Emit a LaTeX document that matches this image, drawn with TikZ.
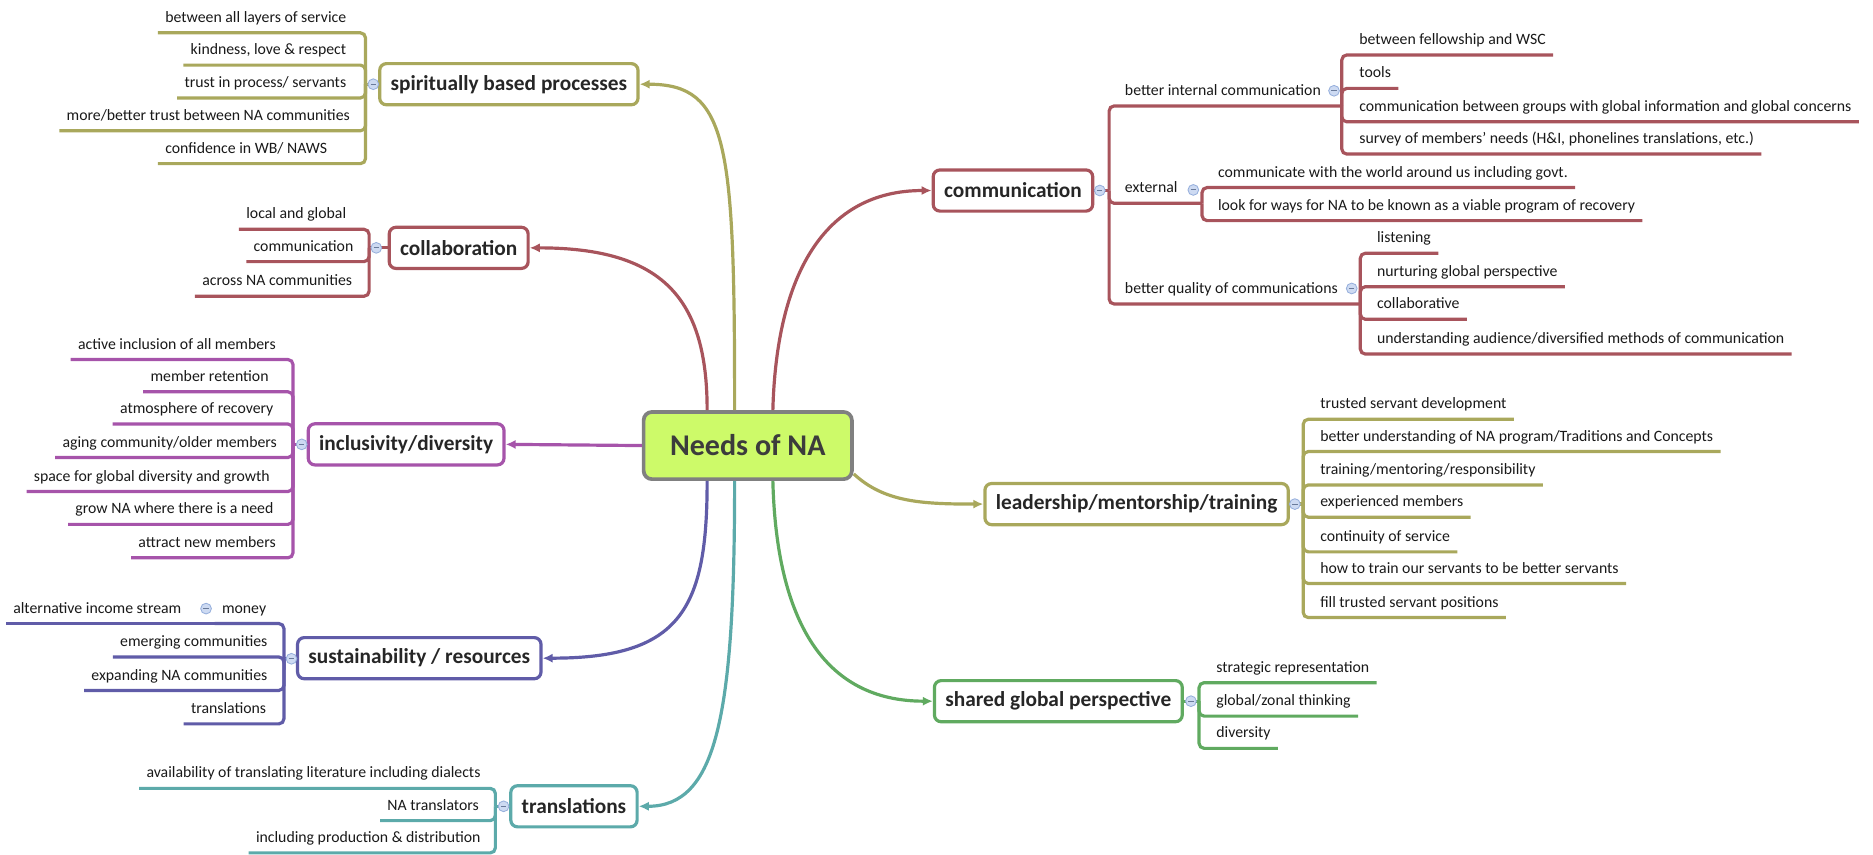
\documentclass[tikz,border=0pt]{standalone}
\usepackage{fontspec}
\setmainfont{Carlito}
\usepackage{tikz}
\usetikzlibrary{arrows.meta, calc}
\tikzset{>={Latex[length=6pt,width=5.5pt]}}
\definecolor{myolive}{RGB}{169,168,92}
\definecolor{myrose}{RGB}{168,84,92}
\definecolor{myplum}{RGB}{166,84,170}
\definecolor{myindigo}{RGB}{96,92,168}
\definecolor{myteal}{RGB}{92,170,170}
\definecolor{mygreen}{RGB}{96,170,96}
\definecolor{mylime}{RGB}{205,250,105}
\definecolor{mygray}{RGB}{128,128,128}
\definecolor{foldfill}{RGB}{205,218,242}
\definecolor{folddraw}{RGB}{150,175,220}
\definecolor{inkgray}{RGB}{60,60,60}
\tikzset{
  hub/.style = {draw=mygray, fill=mylime, line width=2.2pt, rounded corners=5pt, minimum width=124pt, minimum height=40pt, font=\fontsize{17.9}{20}\selectfont\bfseries, text=inkgray},
  topic/.style = {fill=white, line width=1.9pt, rounded corners=4pt, inner xsep=6.5pt, minimum height=24.5pt, font=\fontsize{12.7}{15}\selectfont\bfseries, text=black!85},
  leaf/.style = {font=\fontsize{9.4}{11}\selectfont, inner xsep=4.2pt, inner ysep=6pt, text depth=0pt, text=black!90},
  leafL/.style = {leaf, anchor=south east},
  leafR/.style = {leaf, anchor=south west},
  branch/.style = {line width=1.9pt, ->},
  twig/.style = {line width=1.9pt, rounded corners=3pt},
  fold/.style = {circle, draw=folddraw, fill=foldfill, line width=0.5pt, minimum size=6.4pt, inner sep=0pt,
    path picture={\draw[folddraw!70!black, line width=0.6pt] ([xshift=1.6pt]path picture bounding box.west) -- ([xshift=-1.6pt]path picture bounding box.east);}}
}

\begin{document}
\begin{tikzpicture}[x=0.025cm, y=-0.025cm]
\useasboundingbox (0,0) rectangle (1568,715);

% centre
\node[hub] (needs) at (626,373) {Needs of NA};

% left side topics
\node[topic, draw=myolive] (spirit) at (426,70.5) {spiritually based processes};
\coordinate (spirit-j) at (306,70.5);
\node[leafL] (spirit1) at (296,27.5) {between all layers of service};
\node[leafL] (spirit2) at (296,54.5) {kindness, love \& respect};
\node[leafL] (spirit3) at (296,82) {trust in process/ servants};
\node[leafL] (spirit4) at (299,109.5) {more/better trust between NA communities};
\node[leafL] (spirit5) at (280,137) {confidence in WB/ NAWS};

\node[topic, draw=myrose] (collab) at (384,207.5) {collaboration};
\coordinate (collab-j) at (309,207.5);
\node[leafL] (collab1) at (296,192) {local and global};
\node[leafL] (collab2) at (302,219) {communication};
\node[leafL] (collab3) at (301,248) {across NA communities};

\node[topic, draw=myplum] (incl) at (340,372) {inclusivity/diversity};
\coordinate (incl-j) at (245.3,372);
\node[leafL] (incl1) at (237,301) {active inclusion of all members};
\node[leafL] (incl2) at (231,328) {member retention};
\node[leafL] (incl3) at (235,355) {atmosphere of recovery};
\node[leafL] (incl4) at (238,383) {aging community/older members};
\node[leafL] (incl5) at (232,411.5) {space for global diversity and growth};
\node[leafL] (incl6) at (235,439) {grow NA where there is a need};
\node[leafL] (incl7) at (237,467) {attract new members};

\node[topic, draw=myindigo] (sust) at (351,551) {sustainability / resources};
\coordinate (sust-j) at (237.7,551);
\node[leafL] (sust1) at (229,522) {money};
\node[leafL] (sust1a) at (158,522) {alternative income stream};
\node[leafL] (sust2) at (230,550) {emerging communities};
\node[leafL] (sust3) at (230,578) {expanding NA communities};
\node[leafL] (sust4) at (229,606) {translations};

\node[topic, draw=myteal] (transl) at (480.5,675) {translations};
\coordinate (transl-j) at (414.7,675);
\node[leafL] (transl1) at (408.5,660) {availability of translating literature including dialects};
\node[leafL] (transl2) at (407,687) {NA translators};
\node[leafL] (transl3) at (408.5,714) {including production \& distribution};

% right side topics
\node[topic, draw=myrose] (comm) at (848,159.5) {communication};
\coordinate (comm-j) at (928.5,159.5);
\node[leafR] (comm1) at (935.6,88.7) {better internal communication};
\coordinate (comm1-j) at (1123.3,88.7);
\node[leafR] (comm11) at (1131.8,46) {between fellowship and WSC};
\node[leafR] (comm12) at (1131.8,74) {tools};
\node[leafR] (comm13) at (1131.8,102) {communication between groups with global information and global concerns};
\node[leafR] (comm14) at (1131.8,129) {survey of members' needs (H\&I, phonelines translations, etc.)};
\node[leafR] (comm2) at (935.6,170.2) {external};
\coordinate (comm2-j) at (1006.3,170.2);
\node[leafR] (comm21) at (1013.5,157) {communicate with the world around us including govt.};
\node[leafR] (comm22) at (1013.5,184.7) {look for ways for NA to be known as a viable program of recovery};
\node[leafR] (comm3) at (935.6,254.5) {better quality of communications};
\coordinate (comm3-j) at (1138.8,254.5);
\node[leafR] (comm31) at (1146.6,212) {listening};
\node[leafR] (comm32) at (1146.6,240) {nurturing global perspective};
\node[leafR] (comm33) at (1146.6,267.3) {collaborative};
\node[leafR] (comm34) at (1146.6,296.4) {understanding audience/diversified methods of communication};

\node[topic, draw=myolive] (lead) at (951.5,422) {leadership/mentorship/training};
\coordinate (lead-j) at (1091,422);
\node[leafR] (lead1) at (1099.1,351) {trusted servant development};
\node[leafR] (lead2) at (1099.1,378) {better understanding of NA program/Traditions and Concepts};
\node[leafR] (lead3) at (1099.1,406) {training/mentoring/responsibility};
\node[leafR] (lead4) at (1099.1,433) {experienced members};
\node[leafR] (lead5) at (1099.1,462) {continuity of service};
\node[leafR] (lead6) at (1099.1,488.5) {how to train our servants to be better servants};
\node[leafR] (lead7) at (1099.1,517) {fill trusted servant positions};

\node[topic, draw=mygreen] (shared) at (886,587) {shared global perspective};
\coordinate (shared-j) at (1003.8,587);
\node[leafR] (shared1) at (1012.1,571.5) {strategic representation};
\node[leafR] (shared2) at (1012.1,599.5) {global/zonal thinking};
\node[leafR] (shared3) at (1012.1,626.5) {diversity};

% branches from the centre
\draw[branch, myolive] ([xshift=-0.275cm]needs.north) .. controls (615,120) and (610,70.5) .. (spirit.east);
\draw[branch, myrose] ([xshift=-0.85cm]needs.north) .. controls (592,250) and (555,207.5) .. (collab.east);
\draw[branch, myplum] (needs.west) -- (incl.east);
\draw[branch, myindigo] ([xshift=-0.85cm]needs.south) .. controls (592,510) and (570,551) .. (sust.east);
\draw[branch, myteal] ([xshift=-0.275cm]needs.south) .. controls (615,600) and (600,675) .. (transl.east);
\draw[branch, myrose] ([xshift=0.525cm]needs.north) .. controls (650,230) and (690,159.5) .. (comm.west);
\draw[branch, myolive] (needs.-15) .. controls (740,420) and (770,422) .. (lead.west);
\draw[branch, mygreen] ([xshift=0.525cm]needs.south) .. controls (650,520) and (690,587) .. (shared.west);

% twigs
\draw[twig, myolive] (spirit.west) -- (spirit-j);
\draw[twig, myolive] (spirit-j) |- (spirit1.south west);
\draw[twig, myolive] (spirit-j) |- (spirit2.south west);
\draw[twig, myolive] (spirit-j) |- (spirit3.south west);
\draw[twig, myolive] (spirit-j) |- (spirit4.south west);
\draw[twig, myolive] (spirit-j) |- (spirit5.south west);

\draw[twig, myrose] (collab.west) -- (collab-j);
\draw[twig, myrose] (collab-j) |- (collab1.south west);
\draw[twig, myrose] (collab-j) |- (collab2.south west);
\draw[twig, myrose] (collab-j) |- (collab3.south west);

\draw[twig, myplum] (incl.west) -- (incl-j);
\draw[twig, myplum] (incl-j) |- (incl1.south west);
\draw[twig, myplum] (incl-j) |- (incl2.south west);
\draw[twig, myplum] (incl-j) |- (incl3.south west);
\draw[twig, myplum] (incl-j) |- (incl4.south west);
\draw[twig, myplum] (incl-j) |- (incl5.south west);
\draw[twig, myplum] (incl-j) |- (incl6.south west);
\draw[twig, myplum] (incl-j) |- (incl7.south west);

\draw[twig, myindigo] (sust.west) -- (sust-j);
\draw[twig, myindigo] (sust-j) |- (sust1.south west);
\draw[twig, myindigo] (sust1.south west) -- (sust1a.south west);
\draw[twig, myindigo] (sust-j) |- (sust2.south west);
\draw[twig, myindigo] (sust-j) |- (sust3.south west);
\draw[twig, myindigo] (sust-j) |- (sust4.south west);

\draw[twig, myteal] (transl.west) -- (transl-j);
\draw[twig, myteal] (transl-j) |- (transl1.south west);
\draw[twig, myteal] (transl-j) |- (transl2.south west);
\draw[twig, myteal] (transl-j) |- (transl3.south west);

\draw[twig, myrose] (comm.east) -- (comm-j);
\draw[twig, myrose] (comm-j) |- (comm1-j);
\draw[twig, myrose] (comm-j) |- (comm2-j);
\draw[twig, myrose] (comm-j) |- (comm3-j);
\draw[twig, myrose] (comm1-j) |- (comm11.south east);
\draw[twig, myrose] (comm1-j) |- (comm12.south east);
\draw[twig, myrose] (comm1-j) |- (comm13.south east);
\draw[twig, myrose] (comm1-j) |- (comm14.south east);
\draw[twig, myrose] (comm2-j) |- (comm21.south east);
\draw[twig, myrose] (comm2-j) |- (comm22.south east);
\draw[twig, myrose] (comm3-j) |- (comm31.south east);
\draw[twig, myrose] (comm3-j) |- (comm32.south east);
\draw[twig, myrose] (comm3-j) |- (comm33.south east);
\draw[twig, myrose] (comm3-j) |- (comm34.south east);

\draw[twig, myolive] (lead.east) -- (lead-j);
\draw[twig, myolive] (lead-j) |- (lead1.south east);
\draw[twig, myolive] (lead-j) |- (lead2.south east);
\draw[twig, myolive] (lead-j) |- (lead3.south east);
\draw[twig, myolive] (lead-j) |- (lead4.south east);
\draw[twig, myolive] (lead-j) |- (lead5.south east);
\draw[twig, myolive] (lead-j) |- (lead6.south east);
\draw[twig, myolive] (lead-j) |- (lead7.south east);

\draw[twig, mygreen] (shared.east) -- (shared-j);
\draw[twig, mygreen] (shared-j) |- (shared1.south east);
\draw[twig, mygreen] (shared-j) |- (shared2.south east);
\draw[twig, mygreen] (shared-j) |- (shared3.south east);

% fold markers
\node[fold] (spirit-f) at (312.5,70.5) {};
\node[fold] (collab-f) at (315,207.5) {};
\node[fold] (incl-f) at (252.6,372) {};
\node[fold] (sust-f) at (244,551.5) {};
\node[fold] (sust1-f) at (172.5,509.5) {};
\node[fold] (transl-f) at (421.6,675) {};
\node[fold] (comm-f) at (920.7,159.5) {};
\node[fold] (comm1-f) at (1116.8,76) {};
\node[fold] (comm2-f) at (999,159) {};
\node[fold] (comm3-f) at (1131.6,241.5) {};
\node[fold] (lead-f) at (1084,422) {};
\node[fold] (shared-f) at (997,587) {};
\end{tikzpicture}
\end{document}
